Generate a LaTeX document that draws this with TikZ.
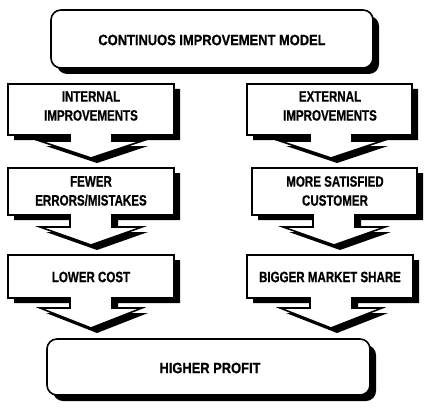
\documentclass[tikz,border=0pt]{standalone}
\usepackage{fontspec}
\newfontfamily\wideF[FakeStretch=0.86,FakeBold=0.6]{Liberation Sans}
\newfontfamily\narrowF[FakeStretch=0.77,FakeBold=0.6]{Liberation Sans}
\newcommand\arrowshape[7]{%
  \fill[black,shift={(6,5)}] (#1,#2) -- (#3,#2) -- (#3,#4) -- ({#5+21},#4) -- ({#5+21},#6) -- ({#5+51},#6) -- (#5,#7) -- ({#5-51},#6) -- ({#5-21},#6) -- ({#5-21},#4) -- (#1,#4) -- cycle;
  \draw[shapeline] (#1,#2) -- (#3,#2) -- (#3,#4) -- ({#5+21},#4) -- ({#5+21},#6) -- ({#5+51},#6) -- (#5,#7) -- ({#5-51},#6) -- ({#5-21},#6) -- ({#5-21},#4) -- (#1,#4) -- cycle;
}
\newcommand\roundshape[4]{%
  \fill[black,rounded corners=10,shift={(6,6)}] (#1,#2) rectangle (#3,#4);
  \draw[shapeline,rounded corners=10] (#1,#2) rectangle (#3,#4);
}
\begin{document}
\begin{tikzpicture}[x=1pt,y=-1pt,
  shapeline/.style={draw=black,fill=white,line width=1.6pt,line join=miter},
  bigtxt/.style={font=\wideF\bfseries\fontsize{15}{19}\selectfont,align=center,inner sep=0},
  smalltxt/.style={font=\narrowF\bfseries\fontsize{15}{19}\selectfont,align=center,inner sep=0}]
\useasboundingbox (0,0) rectangle (430,417);
% top
\roundshape{51}{10}{373}{68}
\node[bigtxt] (model) at (212,40) {CONTINUOS IMPROVEMENT MODEL};
% row 1
\arrowshape{8}{84}{174}{135}{91}{141}{158}
\node[smalltxt] (internal) at (91,106) {INTERNAL\\IMPROVEMENTS};
\arrowshape{247}{84}{412}{135}{331}{141}{158}
\node[smalltxt] (external) at (330,106) {EXTERNAL\\IMPROVEMENTS};
% row 2
\arrowshape{8}{168}{174}{215}{91}{227}{245}
\node[smalltxt] (fewer) at (91,191) {FEWER\\ERRORS/MISTAKES};
\arrowshape{252}{168}{417}{215}{334}{227}{245}
\node[smalltxt] (satisfied) at (335,191) {MORE SATISFIED\\CUSTOMER};
% row 3
\arrowshape{8}{255}{174}{298}{91}{308}{328}
\node[smalltxt] (cost) at (91,277) {LOWER COST};
\arrowshape{247}{255}{413}{298}{331}{308}{328}
\node[smalltxt] (share) at (330,277) {BIGGER MARKET SHARE};
% bottom
\roundshape{47}{339}{370}{395}
\node[bigtxt] (profit) at (210,368) {HIGHER PROFIT};
\end{tikzpicture}
\end{document}
